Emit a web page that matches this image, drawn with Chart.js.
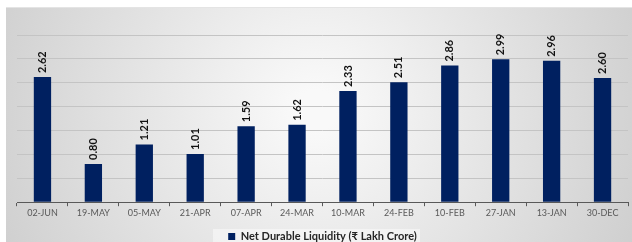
<!DOCTYPE html>
<html>
<head>
<meta charset="utf-8">
<script src="https://cdn.jsdelivr.net/npm/chart.js@4"></script>
<style>
  html, body { margin: 0; padding: 0; background: #fff; }
  #wrap { width: 632px; height: 242px; }
</style>
</head>
<body>
<div id="wrap"><canvas id="liqChart" width="632" height="242"></canvas></div>
<script>
var categories = ['02-JUN', '19-MAY', '05-MAY', '21-APR', '07-APR', '24-MAR', '10-MAR', '24-FEB', '10-FEB', '27-JAN', '13-JAN', '30-DEC'];
var liquidity = [2.62, 0.80, 1.21, 1.01, 1.59, 1.62, 2.33, 2.51, 2.86, 2.99, 2.96, 2.60];
var seriesName = 'Net Durable Liquidity (\u20B9 Lakh Crore)';

// grey frame background, lighter in the middle
var bgPlugin = {
    id: 'bgPlugin',
    beforeDraw: function (chart) {
        var c = chart.ctx;
        c.save();
        c.fillStyle = '#ffffff';
        c.fillRect(0, 0, chart.width, chart.height);
        var g = c.createRadialGradient(316, 110, 20, 316, 110, 360);
        g.addColorStop(0, '#f9f9f9');
        g.addColorStop(1, '#cdcdcd');
        c.fillStyle = g;
        c.fillRect(6, 7, chart.width - 6, chart.height - 7);
        c.strokeStyle = '#e4e4e4';
        c.lineWidth = 1;
        c.beginPath();
        c.moveTo(6, 7.5);
        c.lineTo(chart.width, 7.5);
        c.stroke();
        // lighter box behind the legend
        var lg = chart.legend;
        if (lg) {
            c.fillStyle = 'rgba(255,255,255,0.45)';
            c.fillRect(213, lg.top, 207, chart.height - lg.top);
        }
        c.restore();
    }
};

// rotated value labels above each bar
var valuePlugin = {
    id: 'valuePlugin',
    afterDatasetsDraw: function (chart) {
        var c = chart.ctx;
        var meta = chart.getDatasetMeta(0);
        c.save();
        c.font = 'bold 11px Lato';
        c.fillStyle = '#111111';
        c.textAlign = 'left';
        c.textBaseline = 'middle';
        meta.data.forEach(function (bar, i) {
            c.save();
            c.translate(bar.x, bar.y - 4);
            c.rotate(-Math.PI / 2);
            c.fillText(liquidity[i].toFixed(2), 0, 0);
            c.restore();
        });
        c.restore();
    }
};

var ctx = document.getElementById('liqChart');
var myBarChart = new Chart(ctx, {
    type: 'bar',
    data: {
        labels: categories,
        datasets: [{
            label: seriesName,
            data: liquidity,
            backgroundColor: '#002060',
            borderWidth: 0,
            barPercentage: 0.68,
            categoryPercentage: 0.5
        }]
    },
    options: {
        responsive: false,
        animation: false,
        layout: {
            padding: { left: 17, right: 4, top: 35, bottom: -10 }
        },
        scales: {
            x: {
                offset: true,
                border: { display: true, color: '#595959', width: 1 },
                grid: {
                    display: true,
                    offset: true,
                    drawOnChartArea: false,
                    drawTicks: true,
                    tickLength: 4,
                    color: '#595959'
                },
                ticks: {
                    color: '#595959',
                    font: { family: 'Lato', size: 9 },
                    maxRotation: 0,
                    padding: 1
                },
                afterFit: function (scale) {
                    scale.height += 10;
                }
            },
            y: {
                min: 0,
                max: 3.5,
                display: true,
                border: { display: false },
                grid: { color: '#c4c4c4', drawTicks: false },
                ticks: { display: false, stepSize: 0.5 }
            }
        },
        plugins: {
            legend: {
                position: 'bottom',
                labels: {
                    boxWidth: 7,
                    boxHeight: 7,
                    padding: 2,
                    color: '#262626',
                    font: { family: 'Lato', size: 11, weight: 'bold' }
                }
            },
            tooltip: { enabled: false }
        }
    },
    plugins: [bgPlugin, valuePlugin]
});
</script>
</body>
</html>
